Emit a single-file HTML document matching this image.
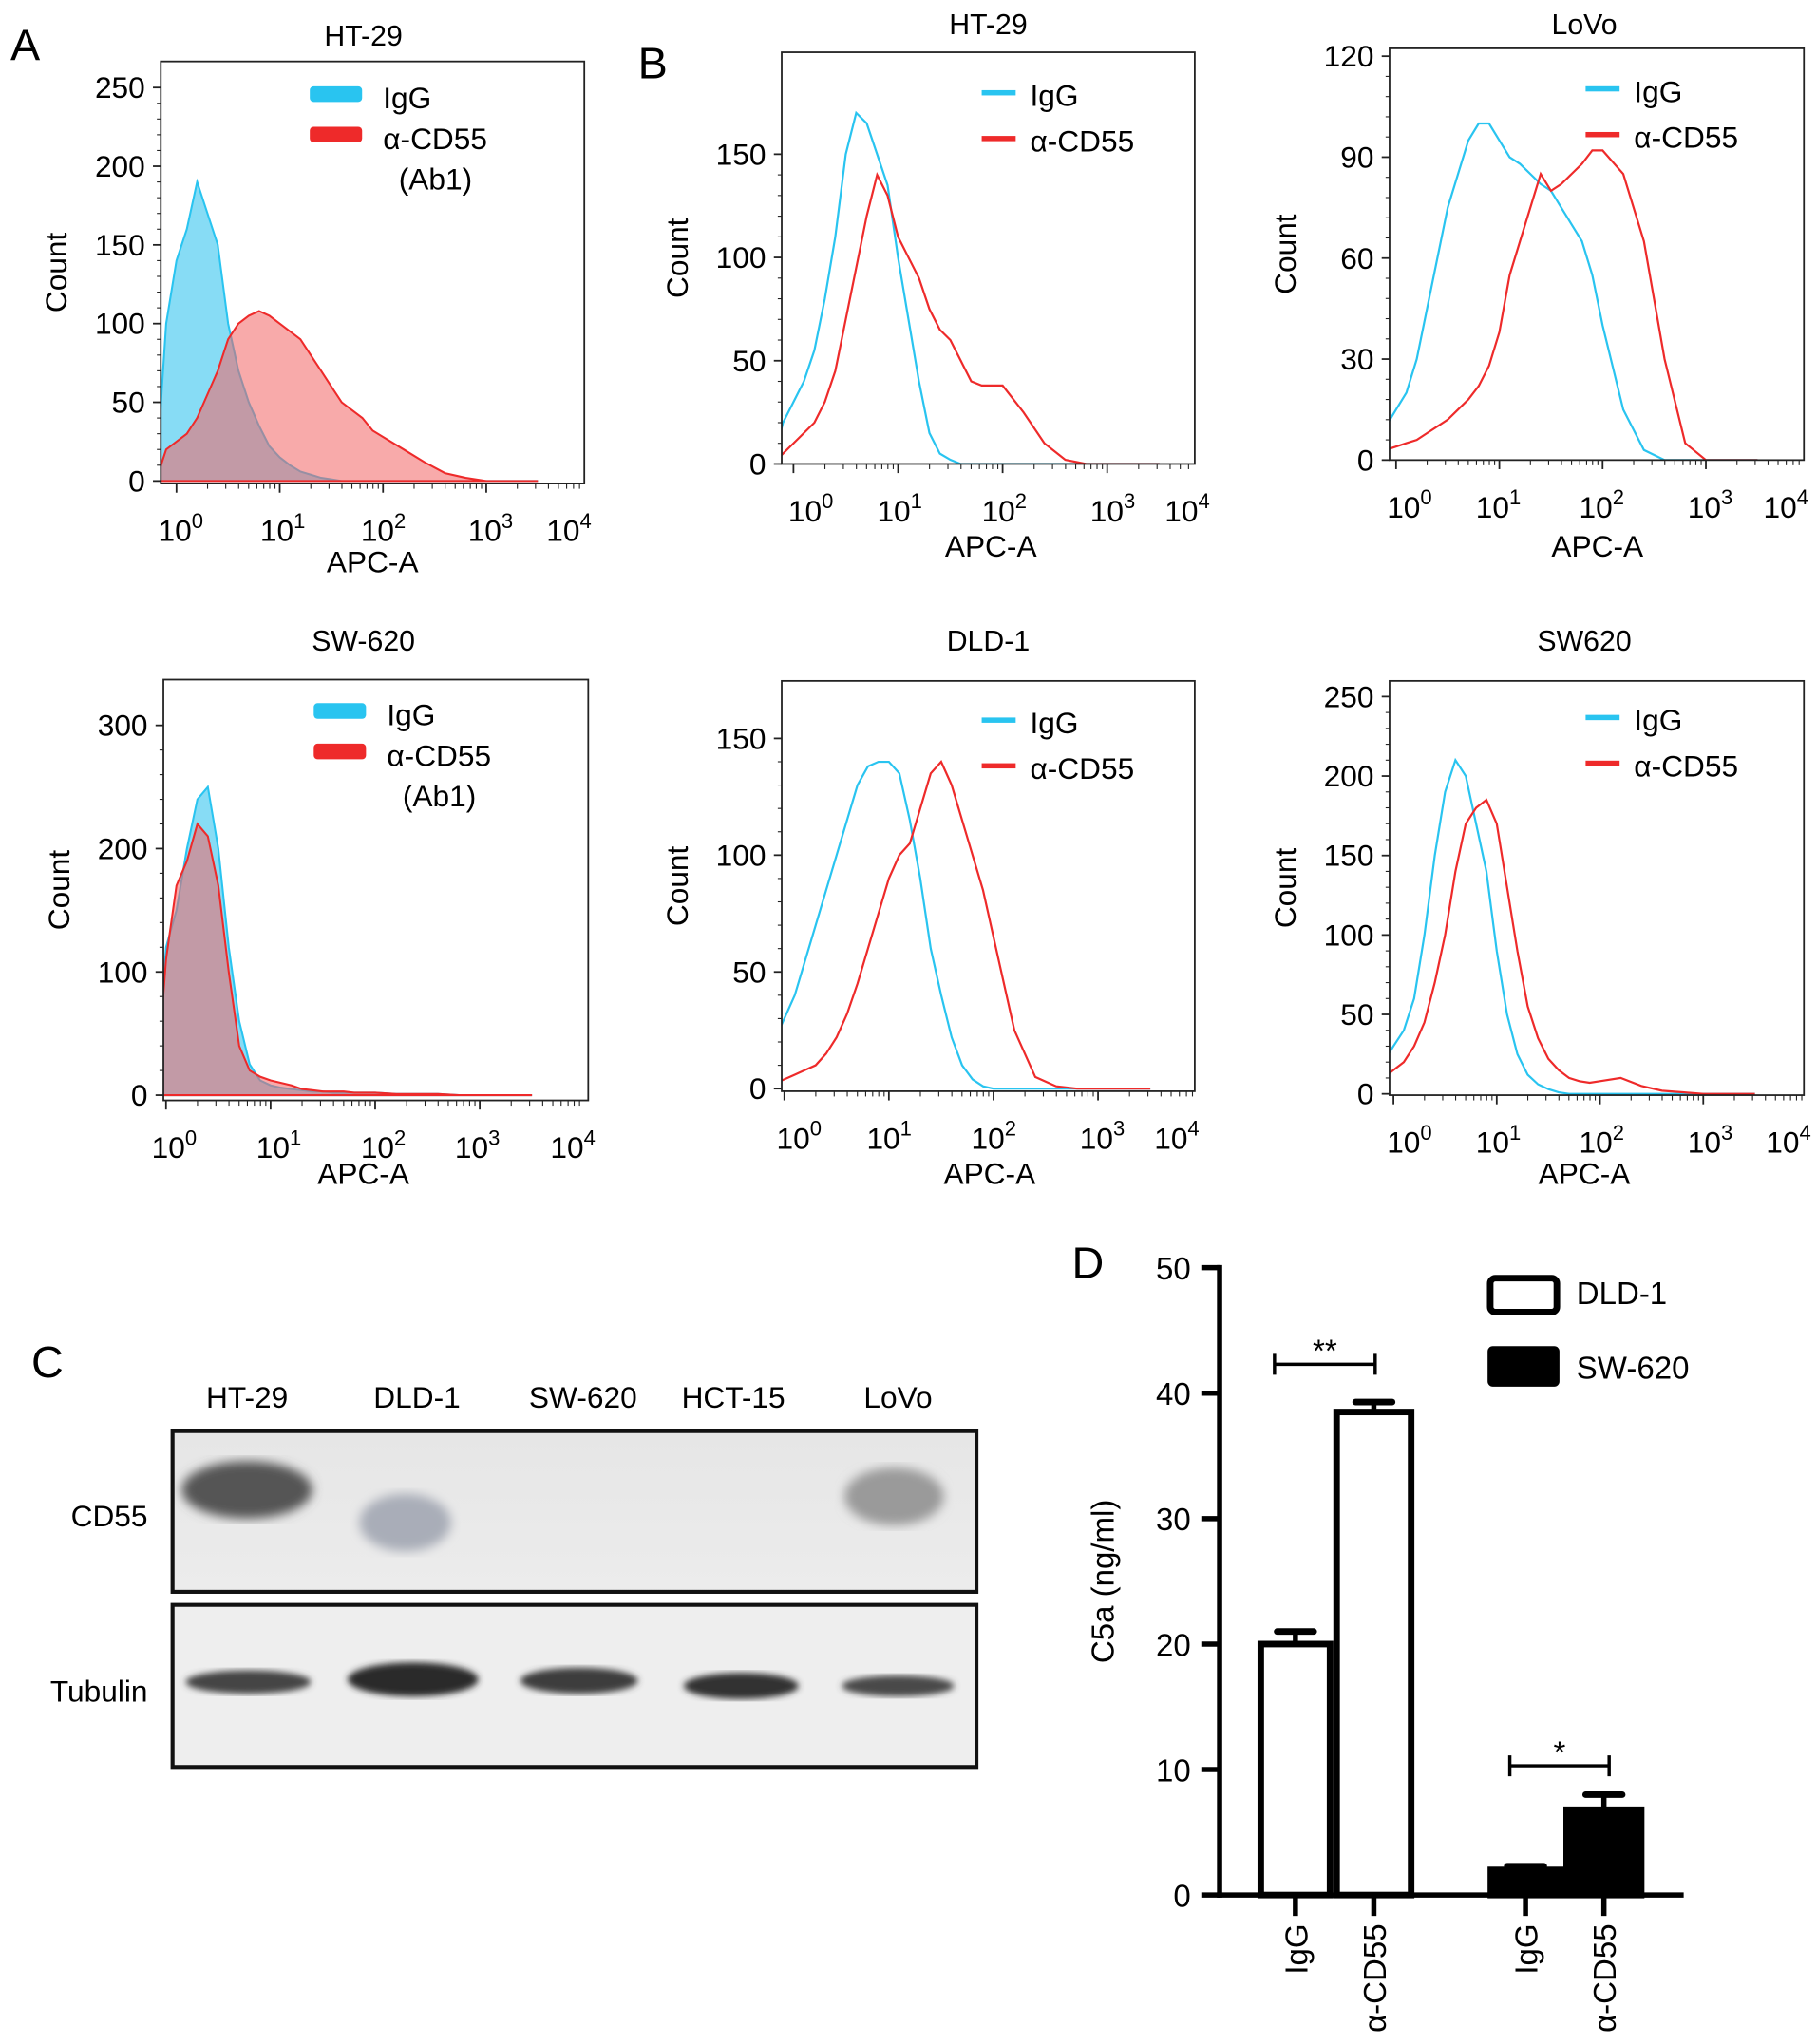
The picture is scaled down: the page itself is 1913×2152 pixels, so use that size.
<!DOCTYPE html>
<html><head><meta charset="utf-8"><style>
html,body{margin:0;padding:0;background:#fff;}
svg{display:block;font-family:"Liberation Sans",Arial,sans-serif;}
</style></head><body>
<svg id="fig" width="1913" height="2152" viewBox="0 0 1390 1564" preserveAspectRatio="none" xmlns="http://www.w3.org/2000/svg">
<defs>
<linearGradient id="blotbg" x1="0" y1="0" x2="0" y2="1"><stop offset="0" stop-color="#e6e6e6"/><stop offset="1" stop-color="#ececec"/></linearGradient>
<filter id="blur4"><feGaussianBlur stdDeviation="4"/></filter>
<filter id="blur2"><feGaussianBlur stdDeviation="2.5"/></filter>
</defs>
<g id="layer"></g>
<!-- Panel letters -->
<text x="8" y="46" font-size="34">A</text>
<text x="488" y="60" font-size="34">B</text>
<text x="24" y="1054" font-size="34">C</text>
<text x="820" y="978" font-size="34">D</text>

<!-- Panel C: western blot -->
<g>
<text x="189" y="1077" font-size="23" text-anchor="middle">HT-29</text>
<text x="319" y="1077" font-size="23" text-anchor="middle">DLD-1</text>
<text x="446" y="1077" font-size="23" text-anchor="middle">SW-620</text>
<text x="561" y="1077" font-size="23" text-anchor="middle">HCT-15</text>
<text x="687" y="1077" font-size="23" text-anchor="middle">LoVo</text>
<text x="113" y="1168" font-size="23" text-anchor="end">CD55</text>
<text x="113" y="1302" font-size="23" text-anchor="end">Tubulin</text>
<rect x="132" y="1095" width="615" height="123" fill="url(#blotbg)" stroke="#111" stroke-width="3"/>
<ellipse cx="189" cy="1140" rx="50" ry="22" fill="#555" filter="url(#blur4)"/>
<ellipse cx="310" cy="1165" rx="35" ry="22" fill="#a9adb8" filter="url(#blur4)"/>
<ellipse cx="684" cy="1145" rx="38" ry="22" fill="#9a9a9a" filter="url(#blur4)"/>
<rect x="132" y="1228" width="615" height="124" fill="#eeeeee" stroke="#111" stroke-width="3"/>
<ellipse cx="190" cy="1287" rx="48" ry="9" fill="#444" filter="url(#blur2)"/>
<ellipse cx="316" cy="1285" rx="50" ry="13" fill="#2a2a2a" filter="url(#blur2)"/>
<ellipse cx="443" cy="1286" rx="45" ry="10" fill="#3c3c3c" filter="url(#blur2)"/>
<ellipse cx="567" cy="1290" rx="44" ry="10" fill="#333" filter="url(#blur2)"/>
<ellipse cx="687" cy="1290" rx="43" ry="8" fill="#4a4a4a" filter="url(#blur2)"/>
</g>
</svg>
<script>
const NS='http://www.w3.org/2000/svg';
const layer=document.getElementById('layer');
function mk(tag,attrs,parent){const e=document.createElementNS(NS,tag);for(const k in attrs)e.setAttribute(k,attrs[k]);(parent||layer).appendChild(e);return e;}

// shared log10 grid for histogram data
const logX=[-0.2,-0.1,0,0.1,0.2,0.3,0.4,0.5,0.6,0.7,0.8,0.9,1.0,1.1,1.2,1.3,1.4,1.5,1.6,1.7,1.8,1.9,2.0,2.2,2.4,2.6,2.8,3.0,3.5];
const a1Igg=[0,100,140,160,190,170,150,100,70,50,35,22,15,10,6,4,2,1,0,0,0,0,0,0,0,0,0,0,0];
const a1Cd55=[0,20,25,30,40,55,70,90,100,105,108,105,100,95,90,80,70,60,50,45,40,32,28,20,12,5,2,0,0];
const a2Igg=[0,0,120,150,200,240,250,200,120,60,25,12,8,6,5,4,3,3,2,2,2,2,2,1,1,1,0,0,0];
const a2Cd55=[0,0,110,170,190,220,210,170,100,40,20,15,12,10,8,5,4,3,3,3,2,2,2,1,1,1,0,0,0];
const bHtIgg=[0,20,30,40,55,80,110,150,170,165,150,135,100,70,40,15,5,2,0,0,0,0,0,0,0,0,0,0,0];
const bHtCd55=[0,5,10,15,20,30,45,70,95,120,140,130,110,100,90,75,65,60,50,40,38,38,38,25,10,2,0,0,0];
const bLoIgg=[0,10,15,20,30,45,60,75,85,95,100,100,95,90,88,85,82,80,75,70,65,55,40,15,3,0,0,0,0];
const bLoCd55=[0,3,4,5,6,8,10,12,15,18,22,28,38,55,65,75,85,80,82,85,88,92,92,85,65,30,5,0,0];
const bDlIgg=[0,20,30,40,55,70,85,100,115,130,138,140,140,135,115,90,60,40,22,10,4,1,0,0,0,0,0,0,0];
const bDlCd55=[0,2,4,6,8,10,15,22,32,45,60,75,90,100,105,120,135,140,130,115,100,85,65,25,5,1,0,0,0];
const bSwIgg=[0,20,30,40,60,100,150,190,210,200,170,140,90,50,25,12,6,3,1,0,0,0,0,0,0,0,0,0,0];
const bSwCd55=[0,10,15,20,30,45,70,100,140,170,180,185,170,130,90,55,35,22,15,10,8,7,8,10,5,2,1,0,0];

// Bar chart data
const barCats=['IgG','α-CD55','IgG','α-CD55'];
const barVals=[20,38.5,2,6.8];
const barErr=[21,39.3,2.3,8];

const panels=[
 {name:'a-ht29',title:'HT-29',box:[123,47,447,370],y0:368,yMax:250,yTop:67,yTicks:[0,50,100,150,200,250],x0:135,dec:79,filled:true,series:[a1Igg,a1Cd55],legend:[295,75,true],tx:278,ty:35,xl:[135,213,290,372,432],xlab:285,xlaby:438},
 {name:'a-sw620',title:'SW-620',box:[125,520,450,842],y0:838,yMax:300,yTop:555,yTicks:[0,100,200,300],x0:127,dec:80,filled:true,series:[a2Igg,a2Cd55],legend:[298,547,true],tx:278,ty:498,xl:[130,210,290,362,435],xlab:278,xlaby:906},
 {name:'b-ht29',title:'HT-29',box:[598,40,914,355],y0:355,yMax:150,yTop:118,yTicks:[0,50,100,150],x0:607,dec:80,filled:false,series:[bHtIgg,bHtCd55],legend:[788,73,false],tx:756,ty:26,xl:[617,685,765,848,905],xlab:758,xlaby:426},
 {name:'b-lovo',title:'LoVo',box:[1063,37,1380,352],y0:352,yMax:120,yTop:43,yTicks:[0,30,60,90,120],x0:1068,dec:79,filled:false,series:[bLoIgg,bLoCd55],legend:[1250,70,false],tx:1212,ty:26,xl:[1075,1143,1222,1305,1363],xlab:1222,xlaby:426},
 {name:'b-dld1',title:'DLD-1',box:[598,521,914,835],y0:833,yMax:150,yTop:565,yTicks:[0,50,100,150],x0:600,dec:80,filled:false,series:[bDlIgg,bDlCd55],legend:[788,553,false],tx:756,ty:498,xl:[608,677,757,840,897],xlab:757,xlaby:906},
 {name:'b-sw620',title:'SW620',box:[1063,521,1380,838],y0:837,yMax:250,yTop:533,yTicks:[0,50,100,150,200,250],x0:1066,dec:79,filled:false,series:[bSwIgg,bSwCd55],legend:[1250,551,false],tx:1212,ty:498,xl:[1075,1143,1222,1305,1365],xlab:1212,xlaby:906}
];

panels.forEach((p,pi)=>{
 const g=mk('g',{});
 
 
 const [bx0,by0,bx1,by1]=p.box;
 const clipId='clip'+pi;
 const cp=mk('clipPath',{id:clipId},g);
 mk('rect',{x:bx0,y:by0,width:bx1-bx0,height:by1-by0},cp);
 const xs=l=>p.x0+l*p.dec;
 const ys=v=>p.y0-(v/p.yMax)*(p.y0-p.yTop);
 const colors=['#29c4f0','#ee2a2a'];
 const fills=['#5fd0f2','#f26464'];
 const sg=mk('g',{'clip-path':'url(#'+clipId+')'},g);
 p.series.forEach((s,si)=>{
  let d='';
  s.forEach((v,i)=>{d+=(i?'L':'M')+xs(logX[i]).toFixed(1)+','+ys(v).toFixed(1);});
  if(p.filled){
   const area=mk('path',{d:d+'L'+xs(logX[logX.length-1])+','+p.y0+'L'+xs(logX[0])+','+p.y0+'Z',fill:fills[si],'fill-opacity':si?0.55:0.75,stroke:colors[si],'stroke-width':1.5},sg);
   
   
  } else {
   const line=mk('path',{d:d,fill:'none',stroke:colors[si],'stroke-width':1.6},sg);
   
   
  }
 });
 const frame=mk('rect',{x:bx0,y:by0,width:bx1-bx0,height:by1-by0,fill:'none',stroke:'#222','stroke-width':1.3},g);
 
 
 // y ticks
 p.yTicks.forEach(t=>{
  const y=ys(t);
  mk('line',{x1:bx0-6,x2:bx0,y1:y,y2:y,stroke:'#222','stroke-width':1.3},g);
  const tl=mk('text',{x:bx0-12,y:y+8,'font-size':23,'text-anchor':'end'},g);
  tl.textContent=t;
  
  
 });
 // minor y ticks
 const step=p.yTicks[1]/5;
 for(let v=0;v<=p.yMax;v+=step){const y=ys(v);mk('line',{x1:bx0-3,x2:bx0,y1:y,y2:y,stroke:'#222','stroke-width':0.8},g);}
 // x log ticks
 for(let dcd=0;dcd<4;dcd++){for(let k=1;k<10;k++){const x=xs(dcd+Math.log10(k));if(x<bx0||x>bx1)continue;mk('line',{x1:x,x2:x,y1:by1,y2:by1+(k===1?7:4),stroke:'#222','stroke-width':k===1?1.3:0.8},g);}}
 p.xl.forEach((x,i)=>{
  const tl=mk('text',{x:x-14,y:by1+44,'font-size':23},g);
  
  
  tl.textContent='10';
  mk('tspan',{dy:-10,'font-size':16},tl).textContent=String(i);
 });
 const xt=mk('text',{x:p.xlab,y:p.xlaby,'font-size':23,'text-anchor':'middle'},g);
 xt.textContent='APC-A';
 
 
 const yt=mk('text',{x:0,y:0,'font-size':23,'text-anchor':'middle',transform:'translate('+(bx0-72)+','+((by0+by1)/2)+') rotate(-90)'},g);
 yt.textContent='Count';
 
 
 const tt=mk('text',{x:p.tx,y:p.ty,'font-size':22,'text-anchor':'middle'},g);
 tt.textContent=p.title;
 
 
 // legend
 const [lx,ly,big]=p.legend;
 ['IgG','α-CD55'].forEach((lab,li)=>{
  const yy=ly+li*(big?31:35);
  if(big){mk('rect',{x:lx-58,y:yy-9,width:40,height:12,rx:3,fill:colors[li]},g);}
  else{mk('rect',{x:lx-37,y:yy-4,width:26,height:4,fill:colors[li]},g);}
  const lt=mk('text',{x:lx-(big?2:0),y:yy+8,'font-size':23},g);
  lt.textContent=lab;
  
  
 });
 if(big){const ab=mk('text',{x:lx+10,y:ly+70,'font-size':23},g);ab.textContent='(Ab1)';}
});

// Panel D bar chart
(function(){
 const g=mk('g',{});
 
 
 const ax=933,y0=1450,yTop=970,yMax=50;
 const ys=v=>y0-v/yMax*(y0-yTop);
 const barX=[962,1020,1138,1196];
 const barW=[58,62,58,62];
 const fill=['#fff','#fff','#000','#000'];
 barVals.forEach((v,i)=>{
  const cx=barX[i]+barW[i]/2;
  mk('line',{x1:cx,x2:cx,y1:ys(v),y2:ys(barErr[i]),stroke:'#000','stroke-width':4},g);
  mk('line',{x1:cx-14,x2:cx+14,y1:ys(barErr[i]),y2:ys(barErr[i]),stroke:'#000','stroke-width':5,'stroke-linecap':'round'},g);
  const r=mk('rect',{x:barX[i]+2.5,y:ys(v),width:barW[i]-5,height:y0-ys(v),fill:fill[i],stroke:'#000','stroke-width':5},g);
  
  
  mk('line',{x1:cx,x2:cx,y1:y0,y2:y0+16,stroke:'#000','stroke-width':4},g);
  const tl=mk('text',{x:0,y:0,'font-size':24,'text-anchor':'end',transform:'translate('+(cx+9)+','+(y0+22)+') rotate(-90)'},g);
  tl.textContent=barCats[i];
  
  
 });
 mk('line',{x1:ax,x2:ax,y1:yTop-2,y2:y0+2,stroke:'#000','stroke-width':4},g);
 mk('line',{x1:ax-2,x2:1288,y1:y0,y2:y0,stroke:'#000','stroke-width':4},g);
 [0,10,20,30,40,50].forEach(t=>{
  const y=ys(t);
  mk('line',{x1:ax-14,x2:ax,y1:y,y2:y,stroke:'#000','stroke-width':4},g);
  const tl=mk('text',{x:ax-22,y:y+9,'font-size':24,'text-anchor':'end'},g);
  tl.textContent=t;
  
  
 });
 const yt=mk('text',{x:0,y:0,'font-size':24,'text-anchor':'middle',transform:'translate(852,1210) rotate(-90)'},g);
 yt.textContent='C5a (ng/ml)';
 
 
 // significance brackets
 [[975,1052,ys(42.3),'**'],[1155,1231,ys(10.3),'*']].forEach(b=>{
  mk('path',{d:'M'+b[0]+','+(b[2]-8)+'V'+(b[2]+8)+'M'+b[0]+','+b[2]+'H'+b[1]+'M'+b[1]+','+(b[2]-8)+'V'+(b[2]+8),stroke:'#000','stroke-width':2.5,fill:'none'},g);
  const s=mk('text',{x:(b[0]+b[1])/2,y:b[2]-2,'font-size':24,'text-anchor':'middle'},g);
  s.textContent=b[3];
  
  
 });
 // legend
 mk('rect',{x:1140,y:978,width:51,height:26,rx:4,fill:'#fff',stroke:'#000','stroke-width':5},g);
 mk('rect',{x:1138,y:1030,width:55,height:31,rx:4,fill:'#000'},g);
 const l1=mk('text',{x:1206,y:998,'font-size':24},g);l1.textContent='DLD-1';
 
 
 const l2=mk('text',{x:1206,y:1055,'font-size':24},g);l2.textContent='SW-620';
 
 
})();
</script>
</body></html>
